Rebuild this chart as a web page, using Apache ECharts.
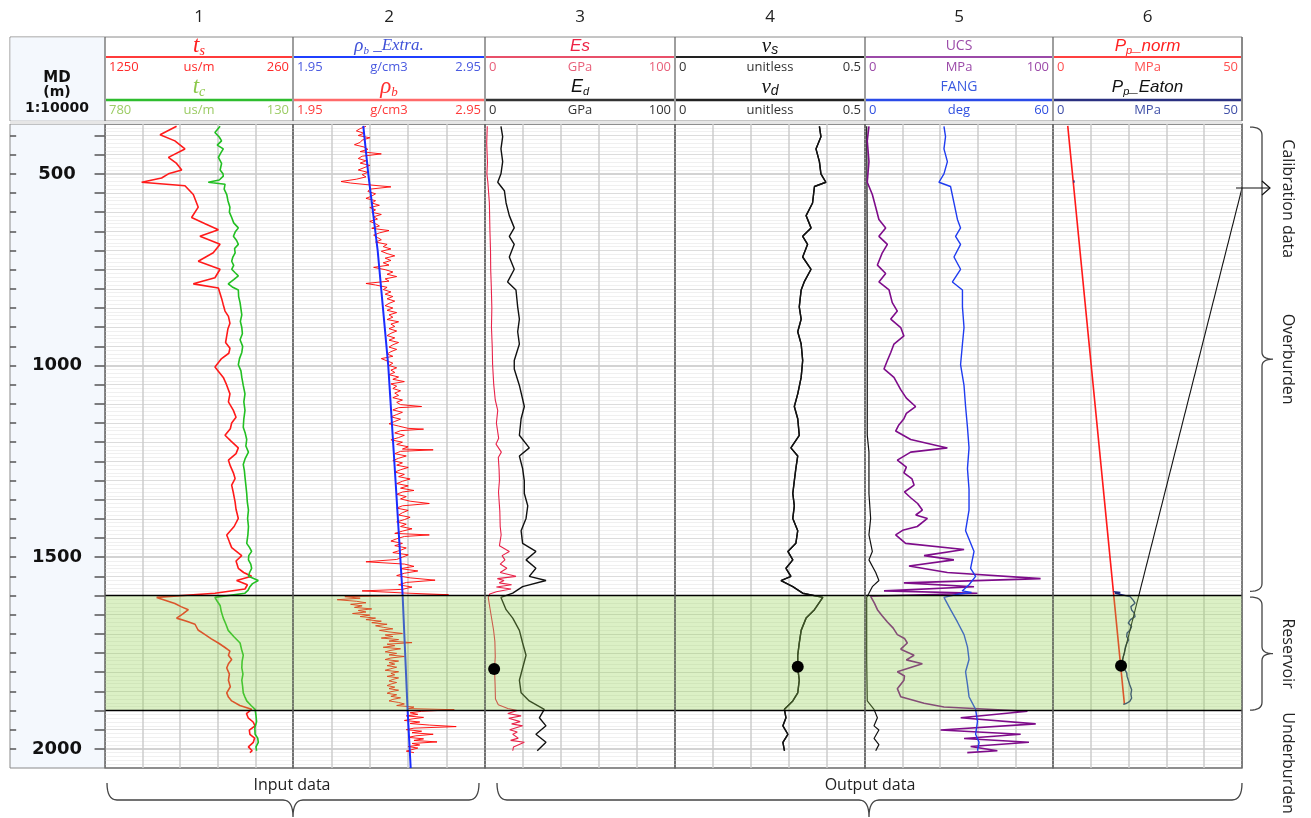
<!DOCTYPE html>
<html><head><meta charset="utf-8">
<script src="https://cdn.jsdelivr.net/npm/echarts@6/dist/echarts.min.js"></script>
<style>html,body{margin:0;padding:0;background:#fff}#c{width:1311px;height:818px}</style>
</head><body><div id="c"></div>
<script>
// ---------------- DATA ----------------
const depthRange = [370, 2050];
const zoneTop = 1600, zoneBase = 1900;
const trackNumbers = ['1', '2', '3', '4', '5', '6'];
const zoneLabels = ['Calibration data', 'Overburden', 'Reservoir', 'Underburden'];
const groupLabels = ['Input data', 'Output data'];
const depthHeader = ['MD', '(m)', '1:10000'];

const tsScale = [1250, 260], tcScale = [780, 130], rhoScale = [1.95, 2.95];
const modScale = [0, 100], prScale = [0, 0.5], ucsScale = [0, 100], fangScale = [0, 60], ppScale = [0, 50];

// [depth m, value]
const ts = [[376,873],[398,960],[414,882],[435,829],[457,916],[473,873],[490,846],[500,916],[511,952],[522,1057],[531,829],[554,785],[587,759],[614,794],[630,723],[646,653],[663,750],[684,644],[706,680],[728,759],[749,644],[771,671],[787,785],[798,653],[825,636],[840,628],[858,618],[872,600],[890,592],[905,603],[923,609],[940,615],[955,592],[968,598],[982,636],[1004,671],[1031,627],[1050,610],[1074,592],[1095,600],[1117,574],[1135,560],[1150,583],[1165,590],[1182,618],[1198,585],[1215,548],[1230,560],[1247,600],[1262,590],[1280,574],[1295,565],[1312,583],[1330,575],[1356,565],[1375,560],[1399,548],[1420,570],[1442,609],[1460,595],[1475,583],[1496,530],[1510,560],[1529,548],[1540,520],[1550,478],[1561,557],[1572,500],[1583,513],[1594,671],[1605,978],[1613,930],[1621,882],[1629,850],[1637,811],[1648,840],[1659,873],[1667,820],[1675,776],[1690,760],[1702,723],[1713,690],[1724,653],[1735,620],[1745,592],[1756,600],[1767,583],[1778,600],[1789,609],[1805,595],[1821,600],[1838,590],[1854,609],[1865,600],[1875,583],[1887,540],[1897,478],[1908,505],[1919,496],[1930,470],[1940,460],[1951,490],[1962,487],[1972,462],[1983,469],[1995,495],[2005,475],[2010,487]];

const tc = [[376,382],[392,400],[404,385],[414,377],[425,392],[435,371],[446,380],[457,388],[473,377],[490,382],[500,372],[506,371],[516,385],[522,423],[527,365],[540,368],[554,359],[570,355],[587,348],[600,350],[614,342],[628,335],[641,319],[652,330],[663,336],[674,325],[684,319],[695,332],[706,330],[717,338],[728,342],[739,335],[749,342],[758,330],[766,319],[776,335],[787,354],[795,340],[803,319],[820,318],[836,313],[852,310],[868,307],[885,312],[901,307],[917,305],[933,313],[950,304],[966,307],[982,315],[998,319],[1014,310],[1031,307],[1052,302],[1074,296],[1095,300],[1117,296],[1139,300],[1161,302],[1177,295],[1193,290],[1210,293],[1226,284],[1242,295],[1258,302],[1275,298],[1291,296],[1312,293],[1334,290],[1356,288],[1377,284],[1399,287],[1420,284],[1442,286],[1464,290],[1475,280],[1485,273],[1496,283],[1507,284],[1518,276],[1529,273],[1540,280],[1550,284],[1561,250],[1569,270],[1577,279],[1586,285],[1594,296],[1605,400],[1615,392],[1626,382],[1642,378],[1659,371],[1675,362],[1691,354],[1707,335],[1724,313],[1740,308],[1756,302],[1772,306],[1789,307],[1805,303],[1821,307],[1838,304],[1854,302],[1865,296],[1875,290],[1887,275],[1897,261],[1913,258],[1929,256],[1945,262],[1962,261],[1972,252],[1983,250],[1995,258],[2005,256]];

const rhoExtra = [[375,2.316],[500,2.342],[700,2.391],[1000,2.446],[1300,2.484],[1600,2.521],[1900,2.547],[2050,2.563]];

const rhoB = [[376,2.33],[382,2.30],[388,2.28],[394,2.32],[400,2.29],[406,2.35],[412,2.31],[418,2.30],[424,2.27],[430,2.32],[436,2.34],[442,2.30],[448,2.41],[454,2.31],[460,2.29],[466,2.33],[472,2.30],[478,2.35],[484,2.32],[490,2.29],[496,2.34],[502,2.31],[508,2.33],[514,2.28],[520,2.20],[524,2.25],[528,2.33],[534,2.46],[540,2.35],[546,2.34],[552,2.38],[558,2.36],[564,2.33],[570,2.38],[576,2.36],[582,2.40],[588,2.35],[594,2.38],[600,2.36],[606,2.41],[612,2.37],[618,2.39],[624,2.35],[630,2.38],[636,2.40],[642,2.36],[648,2.45],[654,2.40],[660,2.37],[666,2.39],[672,2.41],[678,2.38],[684,2.44],[690,2.42],[696,2.46],[702,2.41],[708,2.44],[714,2.48],[720,2.43],[726,2.46],[732,2.42],[738,2.45],[744,2.37],[750,2.43],[756,2.47],[762,2.44],[768,2.49],[774,2.43],[780,2.45],[786,2.33],[790,2.38],[796,2.44],[802,2.42],[808,2.46],[814,2.43],[820,2.47],[826,2.44],[832,2.48],[838,2.45],[844,2.43],[850,2.47],[856,2.44],[862,2.49],[868,2.45],[874,2.47],[880,2.44],[886,2.50],[892,2.46],[898,2.48],[904,2.45],[910,2.49],[916,2.46],[922,2.44],[928,2.48],[934,2.45],[940,2.50],[946,2.47],[952,2.45],[958,2.49],[964,2.46],[970,2.44],[976,2.47],[982,2.41],[988,2.44],[994,2.47],[1000,2.45],[1006,2.49],[1012,2.46],[1018,2.48],[1024,2.45],[1030,2.50],[1036,2.47],[1042,2.53],[1048,2.46],[1054,2.49],[1060,2.47],[1066,2.51],[1072,2.48],[1078,2.50],[1084,2.47],[1090,2.52],[1096,2.49],[1102,2.51],[1107,2.62],[1110,2.50],[1116,2.47],[1122,2.52],[1128,2.49],[1134,2.46],[1140,2.51],[1146,2.48],[1152,2.45],[1158,2.50],[1164,2.55],[1166,2.63],[1170,2.51],[1176,2.48],[1182,2.53],[1188,2.50],[1194,2.46],[1200,2.52],[1206,2.49],[1212,2.55],[1218,2.52],[1220,2.68],[1224,2.51],[1230,2.48],[1236,2.54],[1242,2.50],[1248,2.47],[1254,2.52],[1260,2.49],[1266,2.55],[1272,2.51],[1278,2.48],[1284,2.53],[1290,2.50],[1296,2.56],[1302,2.52],[1308,2.49],[1314,2.55],[1320,2.51],[1326,2.58],[1330,2.52],[1336,2.49],[1342,2.54],[1348,2.51],[1354,2.56],[1360,2.66],[1366,2.52],[1372,2.49],[1378,2.55],[1384,2.52],[1390,2.50],[1396,2.56],[1402,2.53],[1408,2.49],[1414,2.54],[1420,2.51],[1426,2.57],[1432,2.52],[1438,2.48],[1442,2.66],[1446,2.53],[1452,2.49],[1458,2.46],[1464,2.52],[1470,2.48],[1476,2.54],[1482,2.51],[1488,2.47],[1494,2.55],[1500,2.52],[1506,2.49],[1512,2.33],[1518,2.53],[1524,2.58],[1530,2.51],[1536,2.60],[1542,2.53],[1548,2.49],[1554,2.56],[1560,2.69],[1566,2.54],[1572,2.50],[1578,2.57],[1584,2.52],[1588,2.31],[1594,2.55],[1598,2.76],[1603,2.22],[1607,2.30],[1611,2.18],[1615,2.28],[1619,2.33],[1623,2.25],[1627,2.31],[1631,2.27],[1635,2.36],[1639,2.29],[1643,2.33],[1647,2.26],[1651,2.35],[1655,2.30],[1659,2.38],[1663,2.33],[1667,2.41],[1671,2.36],[1675,2.44],[1679,2.38],[1683,2.42],[1687,2.47],[1691,2.40],[1695,2.45],[1699,2.52],[1703,2.43],[1707,2.47],[1711,2.41],[1715,2.50],[1719,2.45],[1723,2.57],[1727,2.44],[1731,2.48],[1735,2.42],[1739,2.51],[1743,2.46],[1747,2.43],[1751,2.49],[1755,2.45],[1759,2.53],[1763,2.46],[1767,2.43],[1771,2.50],[1775,2.45],[1779,2.48],[1783,2.44],[1787,2.49],[1791,2.46],[1795,2.43],[1799,2.50],[1803,2.46],[1807,2.48],[1811,2.44],[1815,2.50],[1819,2.47],[1823,2.45],[1827,2.49],[1831,2.46],[1835,2.44],[1839,2.48],[1843,2.45],[1847,2.50],[1851,2.46],[1855,2.44],[1859,2.49],[1863,2.46],[1867,2.51],[1871,2.47],[1875,2.45],[1879,2.50],[1883,2.53],[1887,2.49],[1891,2.58],[1895,2.55],[1898,2.79],[1902,2.62],[1906,2.56],[1910,2.60],[1914,2.54],[1918,2.63],[1922,2.57],[1926,2.53],[1930,2.61],[1934,2.56],[1938,2.66],[1942,2.80],[1946,2.58],[1950,2.54],[1954,2.62],[1958,2.57],[1962,2.68],[1966,2.59],[1970,2.55],[1974,2.63],[1978,2.58],[1982,2.70],[1986,2.57],[1990,2.61],[1994,2.55],[1998,2.60],[2002,2.57],[2006,2.54],[2010,2.58]];

const Es = [[376,1.2],[420,0.9],[470,1.3],[500,1.0],[522,1.5],[576,2.3],[650,2.6],[700,2.9],[750,3.0],[792,3.3],[850,3.6],[900,3.4],[950,3.8],[998,4.0],[1050,4.6],[1090,5.4],[1117,6.7],[1150,6.0],[1190,7.2],[1205,5.8],[1226,8.6],[1240,7.0],[1270,7.4],[1300,7.6],[1330,7.1],[1380,7.8],[1420,8.0],[1442,8.5],[1470,7.6],[1485,12.8],[1496,9.0],[1507,10.5],[1518,8.0],[1529,11.5],[1540,8.0],[1550,16.3],[1556,6.5],[1561,10.0],[1567,7.5],[1572,14.0],[1578,6.0],[1583,13.7],[1590,6.0],[1596,2.5],[1605,1.7],[1630,2.5],[1660,3.5],[1690,4.5],[1720,5.2],[1760,5.4],[1792,5.0],[1830,5.3],[1870,5.5],[1885,7.0],[1895,12.0],[1900,17.0],[1908,12.0],[1914,19.0],[1920,12.5],[1929,18.5],[1935,14.0],[1940,19.8],[1950,13.0],[1956,17.0],[1962,14.6],[1972,17.5],[1978,13.5],[1983,20.7],[1995,15.0],[2005,14.6]];

const Ed = [[376,8.4],[403,9.3],[435,8.4],[468,9.3],[500,8.4],[522,6.7],[544,10.2],[576,11.1],[609,12.8],[641,15.4],[663,12.8],[684,15.4],[717,12.8],[749,15.4],[782,11.9],[803,16.3],[847,17.2],[879,18.1],[912,17.2],[944,18.1],[987,15.4],[1009,15.4],[1052,18.1],[1107,20.7],[1139,19.0],[1182,18.1],[1215,23.3],[1236,18.1],[1269,19.8],[1301,20.7],[1334,20.7],[1366,22.5],[1399,21.6],[1431,19.0],[1464,19.8],[1485,26.8],[1507,21.6],[1529,26.8],[1550,23.3],[1561,32.1],[1577,19.8],[1594,14.6],[1605,8.4],[1637,11.1],[1659,14.6],[1691,18.1],[1724,19.8],[1756,21.6],[1789,19.8],[1821,18.1],[1854,19.0],[1875,23.3],[1897,31.2],[1919,28.6],[1940,32.1],[1962,26.8],[1983,32.1],[2005,27.5]];

const vs = [[376,0.380],[403,0.384],[435,0.371],[468,0.380],[500,0.384],[522,0.397],[533,0.367],[576,0.362],[609,0.345],[641,0.358],[663,0.336],[684,0.349],[717,0.336],[749,0.358],[782,0.340],[803,0.332],[847,0.327],[879,0.332],[912,0.323],[944,0.332],[987,0.336],[1031,0.332],[1074,0.323],[1107,0.314],[1139,0.323],[1182,0.327],[1215,0.305],[1236,0.323],[1269,0.318],[1301,0.314],[1334,0.310],[1366,0.314],[1399,0.310],[1431,0.323],[1464,0.318],[1485,0.297],[1507,0.310],[1529,0.292],[1550,0.305],[1561,0.279],[1577,0.310],[1594,0.336],[1605,0.389],[1637,0.367],[1659,0.345],[1691,0.332],[1724,0.327],[1756,0.323],[1789,0.323],[1821,0.327],[1854,0.323],[1875,0.310],[1897,0.288],[1919,0.292],[1940,0.284],[1962,0.297],[1983,0.284],[2005,0.288]];
const vd = vs.map(p => [p[0], p[1]]);

const ucs = [[376,2.1],[414,1.2],[468,2.1],[522,1.2],[554,3.9],[587,5.7],[619,7.4],[641,11.0],[663,7.4],[684,11.9],[706,9.2],[738,6.6],[760,11.0],[782,7.4],[803,12.8],[836,14.5],[858,17.2],[879,13.7],[901,19.0],[923,20.7],[944,15.4],[966,13.7],[987,11.9],[1009,10.1],[1031,15.4],[1063,19.0],[1085,22.0],[1107,26.9],[1125,22.0],[1139,20.7],[1155,18.0],[1171,16.3],[1193,24.3],[1215,43.8],[1226,24.3],[1247,17.2],[1265,22.0],[1280,20.7],[1296,25.0],[1312,26.1],[1330,21.0],[1345,24.3],[1360,28.0],[1377,30.5],[1390,27.0],[1399,33.2],[1420,27.8],[1430,20.0],[1442,16.3],[1464,21.6],[1480,52.7],[1496,31.4],[1507,47.3],[1523,23.4],[1540,43.8],[1556,93.4],[1567,20.7],[1577,58.0],[1588,10.1],[1594,59.8],[1602,3.0],[1620,5.0],[1637,6.6],[1652,9.0],[1669,11.9],[1685,15.0],[1702,17.2],[1712,21.0],[1724,22.5],[1740,19.0],[1756,26.1],[1768,22.0],[1778,30.5],[1799,17.2],[1810,21.0],[1821,20.7],[1843,17.2],[1864,19.0],[1881,31.4],[1891,42.0],[1902,86.4],[1919,50.9],[1935,90.8],[1951,40.2],[1962,82.8],[1973,52.7],[1983,87.2],[1994,56.2],[2005,70.4],[2010,54.4]];

const fang = [[376,25.2],[403,25.7],[435,25.2],[468,26.3],[500,25.2],[522,23.6],[533,27.3],[576,28.4],[619,29.5],[641,30.5],[663,28.9],[684,30.5],[717,28.4],[749,30.5],[782,27.9],[803,31.1],[847,31.1],[901,31.6],[944,31.1],[998,30.5],[1052,31.6],[1107,32.1],[1161,32.7],[1215,33.2],[1269,32.7],[1323,33.2],[1377,33.2],[1431,32.1],[1485,34.8],[1529,33.7],[1550,35.3],[1572,33.2],[1588,31.0],[1592,34.0],[1596,30.0],[1605,25.2],[1637,27.3],[1669,29.5],[1702,31.6],[1734,32.7],[1767,33.2],[1799,32.1],[1832,32.7],[1864,33.2],[1897,35.3],[1929,35.9],[1962,35.3],[1983,36.4],[2005,35.9]];

const track5Black = [[376,0.9],[700,1.2],[1009,1.2],[1182,1.2],[1226,2.1],[1334,2.1],[1399,3.0],[1442,2.1],[1485,3.9],[1507,2.1],[1540,5.7],[1561,7.4],[1577,3.9],[1594,2.1],[1605,0.9],[1767,0.9],[1875,1.2],[1897,4.8],[1919,6.6],[1940,4.8],[1951,7.4],[1973,4.8],[1989,7.4],[2005,5.7]];

const ppNorm = [[375,3.9],[1884,18.9]];
const ppEaton = [[517,5.5],[520,6.0],[523,5.6],null,[1590,16.0],[1592,17.8],[1594,16.4],[1603,20.4],[1612,21.2],[1620,21.7],[1629,20.6],[1638,20.8],[1646,21.5],[1655,21.7],[1663,20.5],[1672,19.9],[1681,20.8],[1690,20.4],[1698,19.6],[1707,19.5],[1716,20.0],[1725,19.5],[1733,19.2],[1742,19.0],[1750,18.9],[1759,18.6],[1771,18.4],[1783,18.0],[1792,18.9],[1802,19.5],[1811,19.6],[1820,19.9],[1833,20.3],[1846,20.8],[1857,20.6],[1868,20.8],[1876,20.3],[1881,19.5],[1884,18.6]];
const calibLine = [[1783,18.0],[537,50]];
const calibArrowDepth = 537;
const esPoint = [[1792, 4.8]];
const vPoint = [[1786, 0.323]];
const ppPoint = [[1783, 18.0]];

// ---------------- LAYOUT / STYLE ----------------
const EDGES = [105, 293, 485, 675, 865, 1053, 1242];
const TOP = 124, BOT = 768;
const SANS = '"Open Sans", "Liberation Sans", sans-serif';

const chart = echarts.init(document.getElementById('c'));
const grids = [], xAxes = [], yAxes = [], series = [];
for (let i = 0; i < 6; i++) {
  grids.push({left: EDGES[i], top: TOP, width: EDGES[i+1]-EDGES[i], height: BOT-TOP, show: true,
    backgroundColor: 'rgba(0,0,0,0)', borderColor: '#6a6a6a', borderWidth: 1.3, containLabel: false, outerBoundsMode: 'none'});
}
grids.push({left: 10, top: TOP, width: 95, height: BOT-TOP, show: true, backgroundColor: '#f4f8fd',
  borderColor: '#8a8a8a', borderWidth: 1, containLabel: false, outerBoundsMode: 'none'});

function addX(gi, min, max, inverse) {
  xAxes.push({gridIndex: gi, type: 'value', min, max, inverse: !!inverse, show: false,
    axisLine: {show: false}, axisTick: {show: false}, axisLabel: {show: false}, splitLine: {show: false}});
  return xAxes.length - 1;
}
for (let i = 0; i < 7; i++) {
  const ya = {gridIndex: i, type: 'value', min: depthRange[0], max: depthRange[1], inverse: true,
    axisLine: {show: false}, axisTick: {show: false}, axisLabel: {show: false}, splitLine: {show: false}};
  if (i === 6) {
    ya.position = 'right'; ya.interval = 10;
    ya.axisLabel = {show: true, inside: true, margin: 48, align: 'center', color: '#111',
      fontFamily: 'DejaVu Sans', fontWeight: 'bold', fontSize: 18,
      formatter: v => (Math.round(v) % 500 === 0 ? String(Math.round(v)) : '')};
  }
  yAxes.push(ya);
}
const gx = [];
for (let i = 0; i < 6; i++) gx.push(addX(i, 0, 5, false));
const xTs = addX(0, tsScale[1], tsScale[0], true);
const xTc = addX(0, tcScale[1], tcScale[0], true);
const xRho = addX(1, rhoScale[0], rhoScale[1]);
const xMod = addX(2, modScale[0], modScale[1]);
const xPr = addX(3, prScale[0], prScale[1]);
const xUcs = addX(4, ucsScale[0], ucsScale[1]);
const xFang = addX(4, fangScale[0], fangScale[1]);
const xPp = addX(5, ppScale[0], ppScale[1]);
const xDepth = addX(6, 0, 1);

// grid lines (style)
const hLines = [];
for (let d = 380; d < depthRange[1]; d += 10) {
  let c = '#f0f0f0', w = 1;
  if (d % 500 === 0) { c = '#c4c4c4'; w = 1.5; } else if (d % 50 === 0) { c = '#dcdcdc'; w = 1; }
  hLines.push({yAxis: d, lineStyle: {color: c, width: w, type: 'solid'}});
}
const vLines = [1, 2, 3, 4].map(v => ({xAxis: v}));
const hidden = (xi, yi, z) => ({type: 'line', xAxisIndex: xi, yAxisIndex: yi, data: [[0, depthRange[0]]], symbol: 'none',
  lineStyle: {opacity: 0}, silent: true, z});
for (let i = 0; i < 6; i++) {
  series.push(Object.assign(hidden(gx[i], i, 1), {
    markLine: {silent: true, z: 1, animation: false, symbol: ['none', 'none'], label: {show: false}, data: hLines}}));
  series.push(Object.assign(hidden(gx[i], i, 2), {
    markLine: {silent: true, z: 2, animation: false, symbol: ['none', 'none'], label: {show: false},
      lineStyle: {color: '#cdcdcd', width: 1.5, type: 'solid'}, data: vLines}}));
  series.push(Object.assign(hidden(gx[i], i, 6), {
    markArea: {silent: true, z: 6, animation: false, label: {show: false},
      itemStyle: {color: 'rgba(146,208,80,0.33)', borderWidth: 0},
      data: [[{yAxis: zoneTop}, {yAxis: zoneBase}]]},
    markLine: {silent: true, z: 7, animation: false, symbol: ['none', 'none'], label: {show: false},
      lineStyle: {color: '#000', width: 1.3, type: 'solid'}, data: [{yAxis: zoneTop}, {yAxis: zoneBase}]}}));
}
// depth ticks
const depthTicks = [];
for (let d = 400; d <= 2000; d += 50) {
  depthTicks.push([{coord: [0, d]}, {coord: [0.065, d]}]);
  depthTicks.push([{coord: [0.89, d]}, {coord: [1, d]}]);
}
series.push(Object.assign(hidden(xDepth, 6, 2), {
  markLine: {silent: true, animation: false, symbol: ['none', 'none'], label: {show: false},
    lineStyle: {color: '#555', width: 1.5, type: 'solid'}, data: depthTicks}}));

function curve(name, arr, xi, yi, color, width, z) {
  series.push({type: 'line', name, xAxisIndex: xi, yAxisIndex: yi,
    data: arr.map(p => p ? [p[1], p[0]] : [null, null]), symbol: 'none', showSymbol: false, connectNulls: false,
    lineStyle: {color, width}, itemStyle: {color}, z: z || 3, silent: true, animation: false});
}
function dots(arr, xi, yi) {
  series.push({type: 'scatter', xAxisIndex: xi, yAxisIndex: yi, data: arr.map(p => [p[1], p[0]]),
    symbolSize: 12, itemStyle: {color: '#000', opacity: 1}, z: 10, silent: true});
}
curve('ts', ts, xTs, 0, '#ff1a1a', 1.6);
curve('tc', tc, xTc, 0, '#22bf22', 1.6);
curve('rhob', rhoB, xRho, 1, '#ff0000', 0.9);
curve('rhob_extra', rhoExtra, xRho, 1, '#1a2cff', 2, 4);
curve('Es', Es, xMod, 2, '#e8234a', 1.1);
curve('Ed', Ed, xMod, 2, '#111', 1.4);
curve('vs', vs, xPr, 3, '#111', 1.4);
curve('vd', vd, xPr, 3, '#111', 1.4);
curve('track5black', track5Black, xUcs, 4, '#111', 1.2);
curve('UCS', ucs, xUcs, 4, '#7e0c8a', 1.6);
curve('FANG', fang, xFang, 4, '#1f3cf0', 1.4);
curve('Pp_norm', ppNorm, xPp, 5, '#ff1a1a', 1.6);
curve('Pp_Eaton', ppEaton, xPp, 5, '#1f2a80', 1.4);
curve('calib', calibLine, xPp, 5, '#111', 1.1, 4);
dots(esPoint, xMod, 2);
dots(vPoint, xPr, 3);
dots(ppPoint, xPp, 5);

chart.setOption({animation: false, backgroundColor: '#fff', grid: grids, xAxis: xAxes, yAxis: yAxes, series});

// ---------------- GRAPHICS (header, annotations) ----------------
const ctx = document.createElement('canvas').getContext('2d');
function mw(font, t) { ctx.font = font; return ctx.measureText(t).width; }
const G = [];
function txt(x, y, t, font, fill, align, extra) {
  G.push(Object.assign({type: 'text', x, y, silent: true, z: 50,
    style: {text: t, font, fill, align: align || 'center', verticalAlign: 'middle'}}, extra || {}));
}
function rich(cx, cy, parts, fill) {
  const ws = parts.map(p => mw(p[1], p[0]));
  let x = cx - ws.reduce((a, b) => a + b, 0) / 2;
  parts.forEach((p, i) => { txt(x, cy + (p[2] || 0), p[0], p[1], fill, 'left'); x += ws[i]; });
}
function line(x1, y1, x2, y2, stroke, w, z) {
  G.push({type: 'line', silent: true, z: z || 50, shape: {x1, y1, x2, y2}, style: {stroke, lineWidth: w}});
}
function poly(points, stroke, w) {
  G.push({type: 'polyline', silent: true, z: 50, shape: {points}, style: {stroke, lineWidth: w, fill: null}});
}
function quad(pts, p0, p1, p2) {
  for (let k = 0; k <= 8; k++) {
    const t = k / 8, u = 1 - t;
    pts.push([u*u*p0[0] + 2*u*t*p1[0] + t*t*p2[0], u*u*p0[1] + 2*u*t*p1[1] + t*t*p2[1]]);
  }
}
// header frame
G.push({type: 'rect', silent: true, z: 40, shape: {x: 10, y: 37, width: 1232, height: 84}, style: {fill: '#fff', stroke: '#8a8a8a', lineWidth: 1}});
G.push({type: 'rect', silent: true, z: 41, shape: {x: 10.5, y: 37.5, width: 94.5, height: 83}, style: {fill: '#f4f8fd'}});
G.push({type: 'rect', silent: true, z: 41, shape: {x: 10, y: 121, width: 1232, height: 3}, style: {fill: '#e6e6e6'}});
EDGES.forEach(x => line(x, 37, x, 121, '#6a6a6a', 1.3));
EDGES.forEach(x => line(x, TOP, x, BOT, '#6a6a6a', 1.3, 45));
trackNumbers.forEach((n, i) => txt((EDGES[i] + EDGES[i+1]) / 2, 17, n, '17px ' + SANS, '#222'));
txt(57, 78, depthHeader[0], 'bold 15px "DejaVu Sans"', '#111');
txt(57, 92, depthHeader[1], 'bold 14px "DejaVu Sans"', '#111');
txt(57, 108, depthHeader[2], 'bold 14px "DejaVu Sans"', '#111');

const SER = '"Liberation Serif", serif', SI = '"Liberation Sans", sans-serif';
const hdr = [
  {a: [['t', 'italic 23px ' + SER], ['s', 'italic 14px ' + SER, 5]], aCol: '#ff2020', aLine: '#ff3b3b', aSc: [tsScale[0], 'us/m', tsScale[1]], aScCol: '#ff2a2a',
   c: [['t', 'italic 23px ' + SER], ['c', 'italic 14px ' + SER, 5]], cCol: '#8cc84b', cLine: '#2ebd2e', cSc: [tcScale[0], 'us/m', tcScale[1]], cScCol: '#9ccc65'},
  {a: [['ρ', 'italic 19px ' + SER], ['b', 'italic 11px ' + SER, 5], [' _Extra.', 'italic 17px ' + SER]], aCol: '#3f51d8', aLine: '#1f3fff', aSc: [rhoScale[0], 'g/cm3', rhoScale[1]], aScCol: '#4a5ae0',
   c: [['ρ', 'italic 23px ' + SER], ['b', 'italic 13px ' + SER, 6]], cCol: '#ff3030', cLine: '#ff6a6a', cSc: [rhoScale[0], 'g/cm3', rhoScale[1]], cScCol: '#ff3a3a'},
  {a: [['Es', 'italic 17px ' + SI]], aCol: '#ee2244', aLine: '#e8506a', aSc: [modScale[0], 'GPa', modScale[1]], aScCol: '#e8607a',
   c: [['E', 'italic 18px ' + SI], ['d', 'italic 11px ' + SI, 5]], cCol: '#111', cLine: '#333', cSc: [modScale[0], 'GPa', modScale[1]], cScCol: '#333'},
  {a: [['ν', 'italic 21px ' + SER], ['s', 'italic 14px ' + SI, 4]], aCol: '#111', aLine: '#222', aSc: [prScale[0], 'unitless', prScale[1]], aScCol: '#333',
   c: [['ν', 'italic 21px ' + SER], ['d', 'italic 14px ' + SI, 4]], cCol: '#111', cLine: '#222', cSc: [prScale[0], 'unitless', prScale[1]], cScCol: '#333'},
  {a: [['UCS', '14px ' + SANS]], aCol: '#9b4aa8', aLine: '#9b4aa8', aSc: [ucsScale[0], 'MPa', ucsScale[1]], aScCol: '#9b4aa8',
   c: [['FANG', '14px ' + SANS]], cCol: '#3b5be0', cLine: '#2a4ae8', cSc: [fangScale[0], 'deg', fangScale[1]], cScCol: '#3050e0'},
  {a: [['P', 'italic 17px ' + SI], ['p', 'italic 11px ' + SI, 5], ['_norm', 'italic 17px ' + SI]], aCol: '#ff2020', aLine: '#ff4040', aSc: [ppScale[0], 'MPa', ppScale[1]], aScCol: '#ff5050',
   c: [['P', 'italic 17px ' + SI], ['p', 'italic 11px ' + SI, 5], ['_Eaton', 'italic 17px ' + SI]], cCol: '#111', cLine: '#2a3080', cSc: [ppScale[0], 'MPa', ppScale[1]], cScCol: '#4050a8'}
];
hdr.forEach((h, i) => {
  const L = EDGES[i], R = EDGES[i+1], C = (L + R) / 2;
  rich(C, 46, h.a, h.aCol);
  line(L + 1, 57, R - 1, 57, h.aLine, 2.2);
  txt(L + 4, 67.5, String(h.aSc[0]), '13px ' + SANS, h.aScCol, 'left');
  txt(C, 67.5, h.aSc[1], '13px ' + SANS, h.aScCol, 'center');
  txt(R - 4, 67.5, String(h.aSc[2]), '13px ' + SANS, h.aScCol, 'right');
  rich(C, 87, h.c, h.cCol);
  line(L + 1, 100, R - 1, 100, h.cLine, 2.4);
  txt(L + 4, 110, String(h.cSc[0]), '13px ' + SANS, h.cScCol, 'left');
  txt(C, 110, h.cSc[1], '13px ' + SANS, h.cScCol, 'center');
  txt(R - 4, 110, String(h.cSc[2]), '13px ' + SANS, h.cScCol, 'right');
});

// right-side annotations
const yOf = d => chart.convertToPixel({yAxisIndex: 0}, d);
function vBrace(yT, yB, xL, xV, xT) {
  const yM = (yT + yB) / 2, pts = [];
  quad(pts, [xL, yT], [xV, yT], [xV, yT + 8]);
  quad(pts, [xV, yM - 7], [xV, yM], [xT, yM]);
  quad(pts, [xT, yM], [xV, yM], [xV, yM + 7]);
  quad(pts, [xV, yB - 8], [xV, yB], [xL, yB]);
  poly(pts, '#444', 1.3);
  return yM;
}
const yOb = vBrace(yOf(378), yOf(1589), 1250, 1262, 1273);
const yRs = vBrace(yOf(1604), yOf(1899), 1250, 1262, 1273);
const ax = chart.convertToPixel({xAxisIndex: xPp}, ppScale[1]);
const ay = yOf(calibArrowDepth);
line(ax - 6, ay, ax + 28, ay, '#111', 1.2);
poly([[ax + 20, ay - 7], [ax + 28, ay], [ax + 20, ay + 7]], '#111', 1.2);
const rot = -Math.PI / 2;
txt(1288, (yOf(390) + yOf(740)) / 2, zoneLabels[0], '16px ' + SANS, '#222', 'center', {rotation: rot});
txt(1288, yOb, zoneLabels[1], '16px ' + SANS, '#222', 'center', {rotation: rot});
txt(1288, yRs, zoneLabels[2], '16px ' + SANS, '#222', 'center', {rotation: rot});
txt(1288, 763, zoneLabels[3], '16px ' + SANS, '#222', 'center', {rotation: rot});

// bottom braces
function hBrace(x1, x2, xt, yT, yL, yTip) {
  const pts = [];
  quad(pts, [x1, yT], [x1, yL], [x1 + 10, yL]);
  quad(pts, [xt - 10, yL], [xt, yL], [xt, yTip]);
  quad(pts, [xt, yTip], [xt, yL], [xt + 10, yL]);
  quad(pts, [x2 - 10, yL], [x2, yL], [x2, yT]);
  poly(pts, '#444', 1.3);
}
hBrace(107, 479, 293, 783, 800, 817);
hBrace(497, 1242, 869, 783, 800, 817);
txt(292, 785, groupLabels[0], '16px ' + SANS, '#222');
txt(870, 785, groupLabels[1], '16px ' + SANS, '#222');

chart.setOption({graphic: {elements: G}});
</script>
</body></html>
